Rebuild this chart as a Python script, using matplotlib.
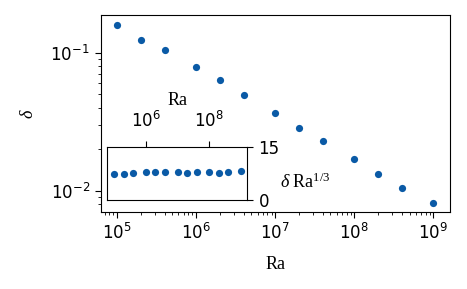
import numpy as np
import matplotlib
matplotlib.use('Agg')
import matplotlib.pyplot as plt

plt.rcParams['mathtext.fontset'] = 'custom'
plt.rcParams['mathtext.rm'] = 'Liberation Serif'
plt.rcParams['mathtext.it'] = 'Liberation Serif:italic'
plt.rcParams['font.size'] = 12
plt.rcParams['xtick.major.size'] = 4.5
plt.rcParams['ytick.major.size'] = 4.5
plt.rcParams['xtick.minor.size'] = 2.5
plt.rcParams['ytick.minor.size'] = 2.5

# data
Ra = np.array([1e5, 2e5, 4e5, 1e6, 2e6, 4e6, 1e7, 2e7, 4e7, 1e8, 2e8, 4e8, 1e9])
delta = np.array([0.158, 0.1236, 0.1045, 0.079, 0.0635, 0.0494, 0.0365,
                  0.0284, 0.0230, 0.0169, 0.0133, 0.01057, 0.00822])
scaled = delta * Ra ** (1 / 3)

col = '#0a5aa6'
serif = 'Liberation Serif'

fig = plt.figure(figsize=(4.67, 2.89), dpi=100)
ax = fig.add_axes([0.2163, 0.2664, 0.7473, 0.6806])
ax.plot(Ra, delta, 'o', color=col, ms=5.2, mec='none')
ax.set_xscale('log')
ax.set_yscale('log')
ax.set_xlim(6.3e4, 1.62e9)
ax.set_ylim(0.00705, 0.186)
ax.set_xticks([1e5, 1e6, 1e7, 1e8, 1e9])
ax.set_xlabel('Ra', fontfamily=serif, fontsize=13, labelpad=9)
ax.set_ylabel(r'$\delta$', fontsize=13, labelpad=10)

# inset
ins = fig.add_axes([0.2291, 0.308, 0.3004, 0.1834])
ins.plot(Ra, scaled, 'o', color=col, ms=5.2, mec='none')
ins.set_xscale('log')
ins.set_xlim(6.0e4, 1.57e9)
ins.set_ylim(0, 15)
ins.set_xticks([1e6, 1e8])
ins.xaxis.set_minor_locator(matplotlib.ticker.NullLocator())
ins.set_yticks([0, 15])
ins.xaxis.tick_top()
ins.xaxis.set_label_position('top')
ins.yaxis.tick_right()
ins.tick_params(axis='x', pad=7)
ins.set_xlabel('Ra', fontfamily=serif, fontsize=13, labelpad=4)
ins.set_ylabel(r'$\delta\ \mathrm{Ra}^{1/3}$', fontsize=13, rotation=0,
               ha='left', va='center')
ins.yaxis.set_label_coords(1.23, 0.34)

fig.savefig('out.png', dpi=100)
